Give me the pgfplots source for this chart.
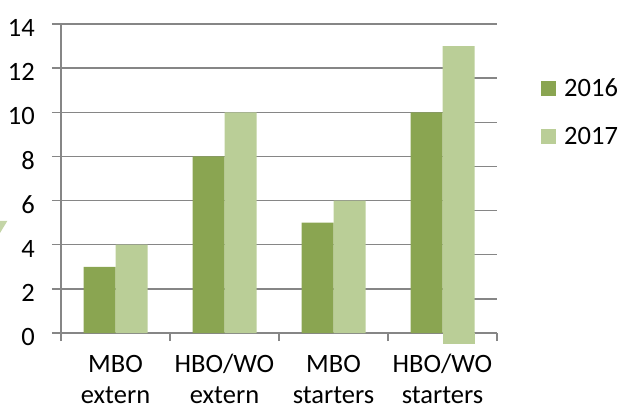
\documentclass[border=0pt]{standalone}
\usepackage{fontspec}
\setmainfont{Carlito}
\usepackage{pgfplots}
\pgfplotsset{compat=1.18}

\definecolor{c2016}{RGB}{138,165,81}
\definecolor{c2017}{RGB}{186,206,151}
\definecolor{gridc}{RGB}{134,134,134}
\newcommand\fs{\fontsize{26.5bp}{31bp}\selectfont}

\begin{document}
\begin{tikzpicture}
\begin{axis}[
    name=ax,
    set layers,
    scale only axis,
    width=436bp, height=309bp,
    ybar=0pt, bar width=32bp,
    xmin=-0.5, xmax=3.5,
    ymin=0, ymax=14,
    clip=false,
    axis lines*=left,
    axis line style={gridc, line width=1.3bp},
    xtick={0,1,2,3},
    xticklabels={{MBO\\extern},{HBO/WO\\extern},{MBO\\starters},{HBO/WO\\starters}},
    minor xtick={-0.5,0.5,1.5,2.5,3.5},
    ytick={0,2,...,14},
    tick align=outside,
    major tick length=9bp, minor tick length=8bp,
    tick style={gridc, line width=1.3bp},
    major x tick style={draw=none},
    /pgf/number format/assume math mode=true,
    xticklabel style={font=\fs, align=center, anchor=base, inner sep=0pt, yshift=-61bp},
    yticklabel style={font=\fs, anchor=east, inner sep=0pt, xshift=-17bp, yshift=-4bp},
    legend style={at={(1.1009,0.8188)}, anchor=north west, draw=none, fill=none,
        inner sep=0pt, row sep=32bp, font=\fs, cells={anchor=west},
        nodes={inner sep=0pt, text height=16bp, text depth=0pt}},
]

% grid, with the offset segments right of the last bar
\draw[on layer=axis grid, gridc, line width=1.3bp] (axis cs:-0.5,14) -- (axis cs:3.5,14);
\pgfplotsinvokeforeach{2,4,...,12}{
  \draw[on layer=axis grid, gridc, line width=1.3bp] (axis cs:-0.5,#1) -- (axis cs:3.15,#1);
  \draw[on layer=axis grid, gridc, line width=1.3bp] ([yshift=-10bp]axis cs:3.15,#1) -- ([yshift=-10bp]axis cs:3.5,#1);
}

\addplot[fill=c2016, draw=none,
    legend image code/.code={\fill[c2016] (0bp,-7.5bp) rectangle (15bp,7.5bp); \path (23bp,0bp);}]
  coordinates {(0,3) (1,8) (2,5) (3,10)};
\addlegendentry{2016}

\addplot[fill=c2017, draw=none,
    legend image code/.code={\fill[c2017] (0bp,-7.5bp) rectangle (15bp,7.5bp); \path (23bp,0bp);}]
  coordinates {(0,4) (1,10) (2,6) (3,13)};
\addlegendentry{2017}

% the last bar runs a little below the axis in the reference
\fill[on layer=axis background, c2017] (axis cs:3,0) rectangle ([xshift=32bp, yshift=-11bp]axis cs:3,0);

\end{axis}
\fill[c2017!85!white] ([shift={(-61bp,112bp)}]ax.south west) -- ++(7.3bp,0bp)
    -- ([shift={(-61bp,100bp)}]ax.south west) -- cycle;
\pgfresetboundingbox
\path[use as bounding box] ([shift={(-61bp,-77bp)}]ax.south west)
    rectangle ([shift={(129bp,24bp)}]ax.north east);
\end{tikzpicture}
\end{document}
